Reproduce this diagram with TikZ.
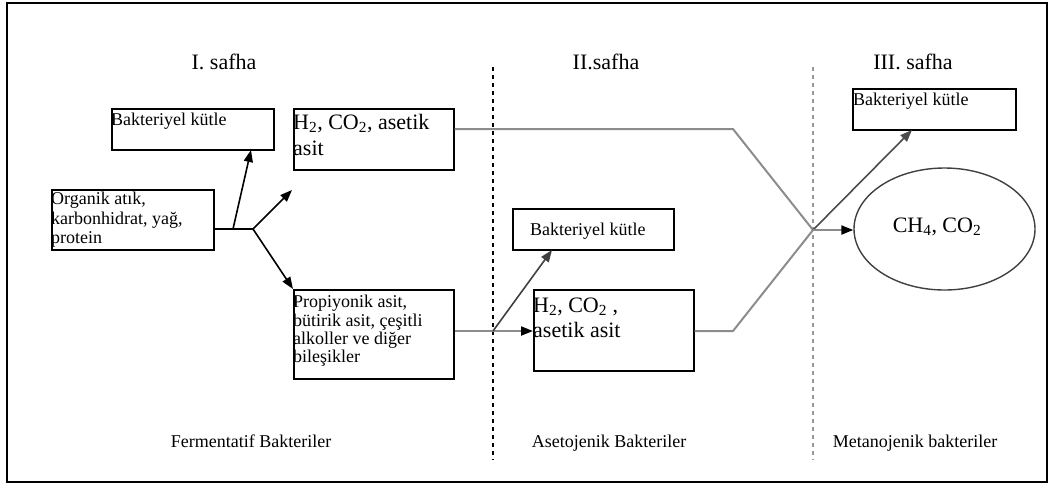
\documentclass[tikz,border=0pt]{standalone}
\usepackage{fontspec}
\setmainfont{Liberation Serif}
\usetikzlibrary{arrows.meta,shapes.geometric}
\newcommand\smf{\fontsize{18}{19.5}\selectfont}
\newcommand\smpf{\fontsize{18}{18.4}\selectfont}
\newcommand\lgf{\fontsize{22}{26}\selectfont}
\newcommand\lgbf{\fontsize{22}{25}\selectfont}
\begin{document}
\begin{tikzpicture}[x=1pt,y=-1pt,
  box/.style={draw,line width=1.6pt,inner sep=0pt,anchor=north west},
  txt/.style={inner sep=0pt,anchor=north west,align=left},
  lbl/.style={inner sep=0pt,anchor=base},
  arr/.style={line width=1.6pt,-{Triangle[length=12pt,width=9pt]}},
  garr/.style={line width=2pt,draw=black!45,-{Triangle[length=12pt,width=9pt,color=black]}},
  gline/.style={line width=2pt,draw=black!45},
  sep/.style={line width=1.5pt,dash pattern=on 4pt off 4pt}]
\useasboundingbox (0,0) rectangle (1049,488);
\draw[line width=2.2pt] (7,3) rectangle (1047,482);

% phase labels
\node[lbl,font=\lgf] (p1) at (224,69) {I. safha};
\node[lbl,font=\lgf] (p2) at (606,69) {II.safha};
\node[lbl,font=\lgf] (p3) at (913,69) {III. safha};
\node[lbl,font=\smf] (b1) at (251,447) {Fermentatif Bakteriler};
\node[lbl,font=\smf] (b2) at (609,447) {Asetojenik Bakteriler};
\node[lbl,font=\smf] (b3) at (915,447) {Metanojenik bakteriler};

% separators
\draw[sep] (493,67) -- (493,460);
\draw[sep,draw=black!40] (813,67) -- (813,460);

% boxes
\node[box,minimum width=162pt,minimum height=41pt] (bk1) at (111,108) {};
\node[txt,font=\smf] at (111,113) {Bakteriyel kütle};
\node[box,minimum width=162pt,minimum height=60pt] (org) at (51,189) {};
\node[txt,font=\smf] at (51,192) {Organik atık,\\karbonhidrat, yağ,\\protein};
\node[box,minimum width=160pt,minimum height=61pt] (h2a) at (293,108) {};
\node[txt,font=\lgf] at (293,114) {H\textsubscript{2}, CO\textsubscript{2}, asetik\\asit};
\node[box,minimum width=160pt,minimum height=89pt] (prop) at (293,289) {};
\node[txt,font=\smpf] at (293,295) {Propiyonik asit,\\bütirik asit, çeşitli\\alkoller ve diğer\\bileşikler};
\node[box,minimum width=161pt,minimum height=41pt] (bk2) at (512,208) {};
\node[txt,font=\smf] at (530,223) {Bakteriyel kütle};
\node[box,minimum width=160pt,minimum height=81pt] (h2b) at (533,289) {};
\node[txt,font=\lgbf] at (533,298) {H\textsubscript{2}, CO\textsubscript{2} ,\\asetik asit};
\node[box,minimum width=163pt,minimum height=41pt] (bk3) at (852,88) {};
\node[txt,font=\smf] at (853,93) {Bakteriyel kütle};
\node[draw=black!75,line width=1.4pt,ellipse,minimum width=181pt,minimum height=122pt,inner sep=0pt] (el) at (944.5,229) {};
\node[font=\lgf,inner sep=0pt] (elt) at (937,227) {CH\textsubscript{4}, CO\textsubscript{2}};

% connector points
\coordinate (a1) at (233,229);
\coordinate (j1) at (253,229);
\coordinate (t1) at (251,150);
\coordinate (t2) at (292,190);
\coordinate (k1) at (733,129);
\coordinate (x) at (813,230);
\coordinate (j2) at (493,331);
\coordinate (k2) at (733,331);
\coordinate (t3) at (552,250);
\coordinate (t4) at (912,130);

% stage I
\draw[line width=1.6pt] (j1 -| org.east) -- (j1);
\draw[arr] (a1) -- (t1);
\draw[arr] (j1) -- (t2);
\draw[arr] (j1) -- (prop.north west);

% to stage III
\draw[gline] (h2a.east |- k1) -- (k1) -- (x);

% stage II
\draw[gline] (prop.east |- j2) -- (j2);
\draw[garr] (j2) -- (j2 -| h2b.west);
\draw[arr,draw=black!75] (j2) -- (t3);
\draw[gline] (h2b.east |- k2) -- (k2) -- (x);

% stage III
\draw[arr,draw=black!70] (x) -- (t4);
\draw[garr] (x) -- (x -| el.west);
\end{tikzpicture}
\end{document}
